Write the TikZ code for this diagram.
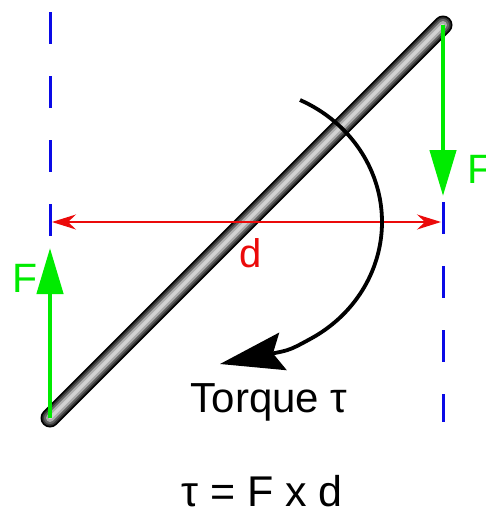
\documentclass[tikz,border=0pt]{standalone}
\usepackage{fontspec}
\setmainfont{Liberation Sans}
\usetikzlibrary{arrows.meta}
\definecolor{fgreen}{RGB}{0,235,0}
\definecolor{fblue}{RGB}{10,10,230}
\definecolor{fred}{RGB}{235,10,10}
\tikzset{
  guide/.style={fblue, line width=3pt, dash pattern=on 32pt off 32pt},
  force/.style={fgreen, line width=4.5pt, -{Triangle[width=26pt,length=46pt]}},
  dimline/.style={fred, line width=1.2pt, {Stealth[length=24pt,width=15pt,inset=8pt]}-{Stealth[length=24pt,width=15pt,inset=8pt]}},
  torquearc/.style={black, line width=3.8pt, -{Stealth[length=64pt,width=38pt,inset=10pt]}},
  lbl/.style={inner sep=0pt, anchor=base}
}
\begin{document}
\begin{tikzpicture}[x=1pt,y=-1pt]
\useasboundingbox (0,0) rectangle (485,514);
\clip (0,0) rectangle (485,514);
% guides
\coordinate (lg1) at (50,12);
\coordinate (lg2) at (50,236);
\coordinate (rg1) at (443,202);
\coordinate (rg2) at (443,422);
\draw[guide] (lg1) -- (lg2);
\draw[guide] (rg1) -- (rg2);
% rod
\coordinate (rodA) at (50,418);
\coordinate (rodB) at (443,25);
\draw[black, line width=19pt, line cap=round] (rodA) -- (rodB);
\draw[gray!45!black, line width=15.5pt, line cap=round, shift={(-0.5,-0.5)}] (rodA) -- (rodB);
\draw[gray!80!black, line width=12pt, line cap=round, shift={(-1,-1)}] (rodA) -- (rodB);
\draw[gray!65, line width=8pt, line cap=round, shift={(-1.5,-1.5)}] (rodA) -- (rodB);
\draw[gray!35, line width=3.5pt, line cap=round, shift={(-1.5,-1.5)}] (rodA) -- (rodB);
% dimension
\coordinate (dL) at (52,222);
\coordinate (dR) at (441,222);
\draw[dimline] (dL) -- (dR);
\node[lbl, fred, font=\fontsize{40pt}{40pt}\selectfont] (d) at (251,267) {d};
% torque arc
\coordinate (tipT) at (220,364);
\draw[torquearc] plot[domain=65:-60, samples=60, smooth] ({240+142*cos(\x)}, {222-134.6*sin(\x)}) .. controls (290,350) .. (tipT);
% forces
\coordinate (fL) at (50,248);
\coordinate (fR) at (443,196);
\draw[force] (rodA) -- (fL);
\draw[force] (rodB) -- (fR);
\node[lbl, anchor=base west, fgreen, font=\fontsize{41pt}{41pt}\selectfont] (FL) at (12,292) {F};
\node[lbl, anchor=base west, fgreen, font=\fontsize{41pt}{41pt}\selectfont] (FR) at (467,183) {F};
% texts
\node[lbl, font=\fontsize{42pt}{42pt}\selectfont] (torque) at (269,412) {Torque τ};
\node[lbl, font=\fontsize{43pt}{43pt}\selectfont] (eq) at (262,506) {τ = F x d};
\end{tikzpicture}
\end{document}
